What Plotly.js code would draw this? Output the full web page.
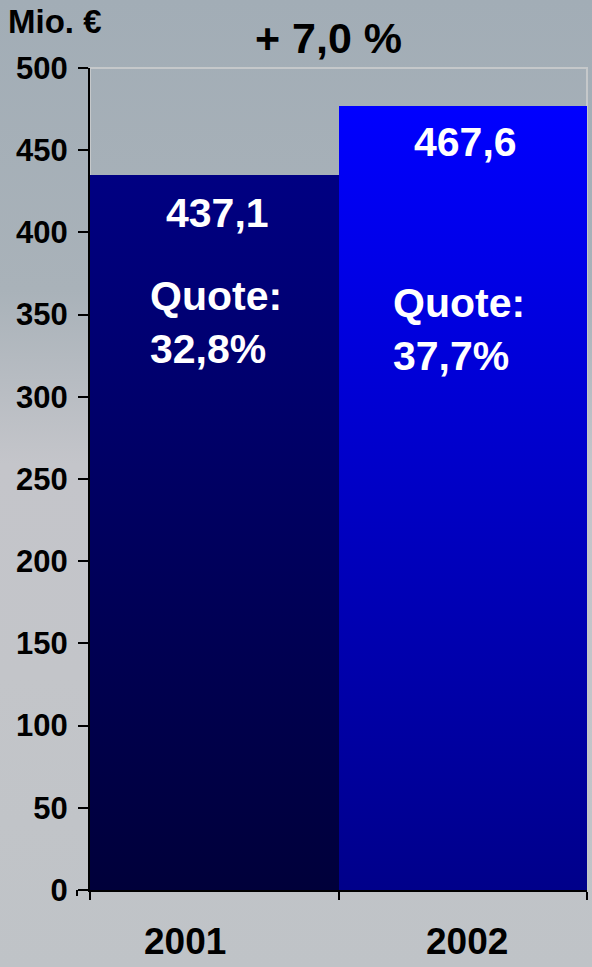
<!DOCTYPE html>
<html>
<head>
<meta charset="utf-8">
<script src="https://cdn.plot.ly/plotly-3.0.1.min.js"></script>
<style>
html,body{margin:0;padding:0;}
body{width:592px;height:967px;overflow:hidden;
background:linear-gradient(180deg,#a2adb6 0%,#a9b2b9 30%,#c4c5ca 48%,#c3c5c9 70%,#bfc3c7 100%);}
#chart{width:592px;height:967px;}
</style>
</head>
<body>
<div id="chart"></div>
<script>
const years = ['2001', '2002'];
const values = [435, 477];
const valueLabels = ['437,1', '467,6'];
const quoteLabels = ['Quote:<br>32,8%', 'Quote:<br>37,7%'];
const labelY = [412, 455];
const quoteY = [345, 341];
const yTicks = [0, 50, 100, 150, 200, 250, 300, 350, 400, 450, 500];
const changeLabel = '+ 7,0 %';
const unitLabel = 'Mio. €';

const FONT = 'Liberation Sans, Arial, sans-serif';
const W = 592, H = 967, ML = 90, MR = 5, MT = 68, MB = 77;
const PW = W - ML - MR, PH = H - MT - MB;
const px = v => (v - ML) / PW;
const py = v => (H - MB - v) / PH;

const annotations = [];
years.forEach((yr, i) => {
  annotations.push({x: i, y: labelY[i], xref: 'x', yref: 'y', text: valueLabels[i], showarrow: false,
    xshift: 3, font: {family: FONT, size: 41, color: '#ffffff', weight: 'bold'}});
  annotations.push({x: i, y: quoteY[i], xref: 'x', yref: 'y', text: quoteLabels[i], showarrow: false,
    xanchor: 'left', align: 'left', xshift: i === 0 ? -66 : -72,
    font: {family: FONT, size: 41, color: '#ffffff', weight: 'bold'}});
  // category labels below the axis (offset as in the reference)
  annotations.push({x: i, y: py(942), xref: 'x', yref: 'paper', text: yr, showarrow: false,
    xanchor: 'center', yanchor: 'middle', xshift: i === 0 ? -29 : 4,
    font: {family: FONT, size: 37, weight: 'bold', color: '#000'}});
});
annotations.push({xref: 'paper', yref: 'paper', x: px(328), y: py(38),
  text: changeLabel, showarrow: false, xanchor: 'center', yanchor: 'middle',
  font: {family: FONT, size: 43, weight: 'bold', color: '#000'}});
annotations.push({xref: 'paper', yref: 'paper', x: px(6), y: py(22),
  text: unitLabel, showarrow: false, xanchor: 'left', yanchor: 'middle',
  font: {family: FONT, size: 33, weight: 'bold', color: '#000'}});

const layout = {
  width: W, height: H,
  margin: {l: ML, r: MR, t: MT, b: MB},
  paper_bgcolor: 'rgba(0,0,0,0)',
  plot_bgcolor: 'rgba(0,0,0,0)',
  bargap: 0,
  showlegend: false,
  font: {family: FONT, weight: 'bold', color: '#000'},
  xaxis: {type: 'category', showgrid: false, showline: true, linecolor: '#000', linewidth: 2,
    ticks: 'outside', tickson: 'boundaries', ticklen: 8, tickcolor: '#000', tickwidth: 2,
    showticklabels: false, zeroline: false},
  yaxis: {range: [0, 500], tickvals: yTicks, showgrid: false, showline: true, linecolor: '#000', linewidth: 2,
    ticks: 'outside', ticklen: 10, tickcolor: '#000', tickwidth: 2, zeroline: false, ticklabelstandoff: 4,
    tickfont: {family: FONT, size: 31, weight: 'bold', color: '#000'}},
  shapes: [
    {type: 'rect', xref: 'paper', yref: 'paper', x0: 0, x1: 1, y0: 0, y1: 1, layer: 'below',
      line: {color: '#c5c8ca', width: 2}},
    {type: 'line', xref: 'paper', yref: 'paper', x0: px(77), x1: px(77), y0: py(890), y1: py(896),
      line: {color: '#000', width: 2}}
  ],
  annotations: annotations
};

const trace = {type: 'bar', x: years, y: values, marker: {color: ['#000080', '#0000ff'], line: {width: 0}},
  hoverinfo: 'none'};

Plotly.newPlot('chart', [trace], layout, {staticPlot: true}).then(gd => {
  const svg = gd.querySelector('.main-svg');
  const ns = 'http://www.w3.org/2000/svg';
  const defs = svg.querySelector('defs');
  const grads = [['#000082', '#00003a'], ['#0000ff', '#00008a']];
  grads.forEach((g, i) => {
    const lg = document.createElementNS(ns, 'linearGradient');
    lg.setAttribute('id', 'barGrad' + i);
    lg.setAttribute('x1', '0'); lg.setAttribute('y1', '0');
    lg.setAttribute('x2', '0'); lg.setAttribute('y2', '1');
    [[0, g[0]], [1, g[1]]].forEach(s => {
      const st = document.createElementNS(ns, 'stop');
      st.setAttribute('offset', s[0]);
      st.setAttribute('stop-color', s[1]);
      lg.appendChild(st);
    });
    defs.appendChild(lg);
  });
  gd.querySelectorAll('.trace.bars .point path').forEach((p, i) => {
    p.style.fill = 'url(#barGrad' + i + ')';
  });
});
</script>
</body>
</html>
